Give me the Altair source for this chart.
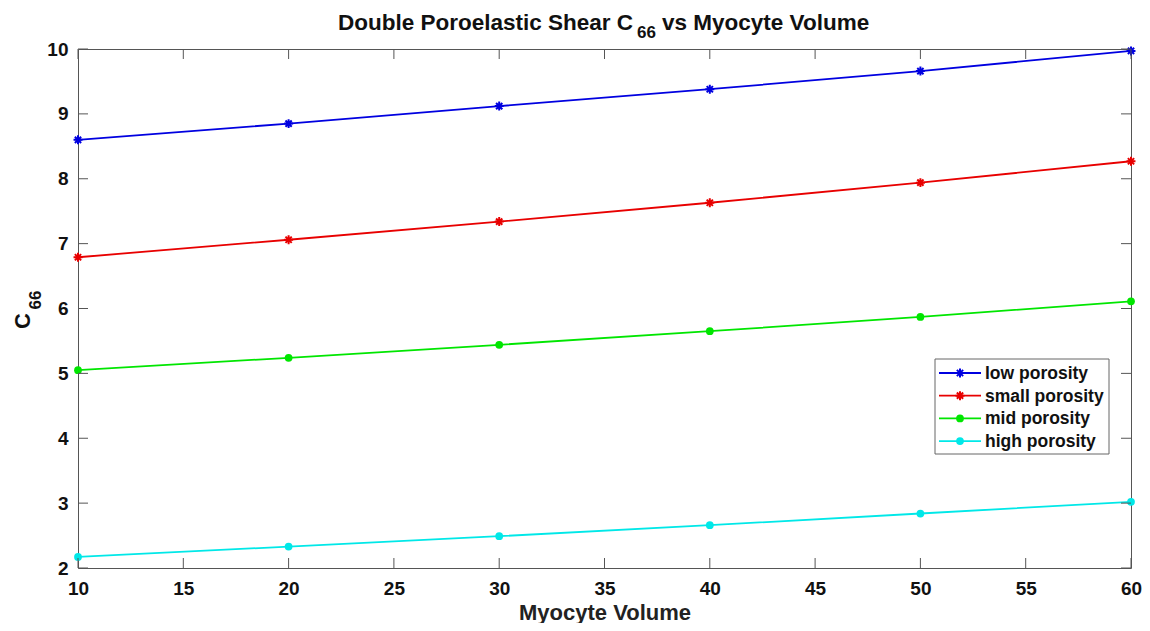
import altair as alt
import pandas as pd

volume = [10, 20, 30, 40, 50, 60]
low_porosity = [8.60, 8.85, 9.12, 9.38, 9.66, 9.97]
small_porosity = [6.79, 7.06, 7.34, 7.63, 7.94, 8.27]
mid_porosity = [5.05, 5.24, 5.44, 5.65, 5.87, 6.11]
high_porosity = [2.17, 2.33, 2.49, 2.66, 2.84, 3.02]

series_names = ["low porosity", "small porosity", "mid porosity", "high porosity"]
series_colors = ["#0000e0", "#e80000", "#00e600", "#00e8e8"]
series_markers = ["asterisk", "asterisk", "dot", "dot"]

x_ticks = [10, 15, 20, 25, 30, 35, 40, 45, 50, 55, 60]
y_ticks = [2, 3, 4, 5, 6, 7, 8, 9, 10]

W, H = 1053, 519
FONT = "Liberation Sans"
AXIS_COLOR = "#555555"
ASTERISK = "M-1,0L1,0M0,-1L0,1M-0.7,-0.7L0.7,0.7M-0.7,0.7L0.7,-0.7"

rows = []
for name, vals, mk in zip(series_names,
                          [low_porosity, small_porosity, mid_porosity, high_porosity],
                          series_markers):
    for v, c in zip(volume, vals):
        rows.append({"volume": v, "c66": c, "series": name, "marker": mk})
df = pd.DataFrame(rows)

xs = alt.Scale(domain=[10, 60], nice=False, zero=False)
ys = alt.Scale(domain=[2, 10], nice=False, zero=False)
cs = alt.Scale(domain=series_names, range=series_colors)

x_enc = alt.X("volume:Q", scale=xs, axis=alt.Axis(
    values=x_ticks, format="d", title="Myocyte Volume", ticks=False, domain=False,
    grid=False, labelFlush=False, labelOverlap=False,
    labelFontSize=19, labelFontWeight="bold", labelColor="#111", labelPadding=11,
    titleFontSize=22, titleFontWeight="bold", titleColor="#222", titlePadding=4,
    labelFont=FONT, titleFont=FONT))
y_enc = alt.Y("c66:Q", scale=ys, axis=alt.Axis(
    values=y_ticks, format="d", title=None, ticks=False, domain=False, grid=False,
    labelFlush=False, labelOverlap=False,
    labelFontSize=19, labelFontWeight="bold", labelColor="#111", labelPadding=10,
    labelFont=FONT))

base = alt.Chart(df)
lines = base.mark_line(strokeWidth=1.8).encode(
    x=x_enc, y=y_enc,
    color=alt.Color("series:N", scale=cs, legend=None),
    detail="series:N",
)
stars = base.transform_filter(alt.datum.marker == "asterisk").mark_point(
    shape=ASTERISK, filled=False, strokeWidth=2, size=80, opacity=1
).encode(
    x=alt.X("volume:Q", scale=xs), y=alt.Y("c66:Q", scale=ys),
    color=alt.Color("series:N", scale=cs, legend=None),
)
dots = base.transform_filter(alt.datum.marker == "dot").mark_point(
    shape="circle", filled=True, size=60, opacity=1
).encode(
    x=alt.X("volume:Q", scale=xs), y=alt.Y("c66:Q", scale=ys),
    color=alt.Color("series:N", scale=cs, legend=None),
)

xt = pd.DataFrame({"t": x_ticks})
yt = pd.DataFrame({"t": y_ticks})
tick_style = dict(color=AXIS_COLOR, strokeWidth=1)
xb = alt.Chart(xt).mark_rule(**tick_style).encode(
    x=alt.X("t:Q", scale=xs), y=alt.value(H), y2=alt.value(H - 10))
xtop = alt.Chart(xt).mark_rule(**tick_style).encode(
    x=alt.X("t:Q", scale=xs), y=alt.value(0), y2=alt.value(10))
yl = alt.Chart(yt).mark_rule(**tick_style).encode(
    y=alt.Y("t:Q", scale=ys), x=alt.value(0), x2=alt.value(10))
yr = alt.Chart(yt).mark_rule(**tick_style).encode(
    y=alt.Y("t:Q", scale=ys), x=alt.value(W - 10), x2=alt.value(W))

one = pd.DataFrame({"k": [0]})

# Legend (manual, line + marker)
LX0, LX1, LY0, LY1 = 857, 1031, 310, 405
legend_layers = [
    alt.Chart(one).mark_rect(fill="white", stroke="#666666", strokeWidth=1).encode(
        x=alt.value(LX0), x2=alt.value(LX1), y=alt.value(LY0), y2=alt.value(LY1))
]
for i, (name, col, mk) in enumerate(zip(series_names, series_colors, series_markers)):
    yy = 324 + i * 22.7
    legend_layers.append(alt.Chart(one).mark_rule(color=col, strokeWidth=1.8).encode(
        x=alt.value(LX0 + 4), x2=alt.value(LX0 + 46), y=alt.value(yy)))
    if mk == "asterisk":
        legend_layers.append(alt.Chart(one).mark_point(
            shape=ASTERISK, filled=False, strokeWidth=2, size=80, color=col, opacity=1
        ).encode(x=alt.value(LX0 + 25), y=alt.value(yy)))
    else:
        legend_layers.append(alt.Chart(one).mark_point(
            shape="circle", filled=True, size=60, color=col, opacity=1
        ).encode(x=alt.value(LX0 + 25), y=alt.value(yy)))
    legend_layers.append(alt.Chart(one).mark_text(
        text=name, align="left", baseline="middle", font=FONT, fontSize=17.5,
        fontWeight="bold", color="#111"
    ).encode(x=alt.value(LX0 + 50), y=alt.value(yy + 1)))

# Title with subscript
title_layers = [
    alt.Chart(one).mark_text(text="Double Poroelastic Shear C", align="right",
                             baseline="alphabetic", font=FONT, fontSize=22.5,
                             fontWeight="bold", color="#111").encode(
        x=alt.value(555), y=alt.value(-19)),
    alt.Chart(one).mark_text(text="66", align="left", baseline="alphabetic",
                             font=FONT, fontSize=17, fontWeight="bold",
                             color="#111").encode(
        x=alt.value(559), y=alt.value(-11)),
    alt.Chart(one).mark_text(text="vs Myocyte Volume", align="left",
                             baseline="alphabetic", font=FONT, fontSize=22.5,
                             fontWeight="bold", color="#111").encode(
        x=alt.value(584), y=alt.value(-19)),
    # y axis title C66 (rotated)
    alt.Chart(one).mark_text(text="C", align="center", baseline="middle",
                             angle=270, font=FONT, fontSize=22, fontWeight="bold",
                             color="#111").encode(
        x=alt.value(-55), y=alt.value(272)),
    alt.Chart(one).mark_text(text="66", align="center", baseline="middle",
                             angle=270, font=FONT, fontSize=17, fontWeight="bold",
                             color="#111").encode(
        x=alt.value(-42), y=alt.value(251)),
]

chart = alt.layer(
    lines, stars, dots, xb, xtop, yl, yr, *legend_layers, *title_layers
).properties(
    width=W, height=H,
    autosize=alt.AutoSizeParams(type="none"),
    padding={"left": 70, "top": 41, "right": 11, "bottom": 55},
    background="white",
).configure_view(
    stroke=AXIS_COLOR, strokeWidth=1
)

chart.save("out.html", embed_options={"renderer": "svg", "actions": False})
